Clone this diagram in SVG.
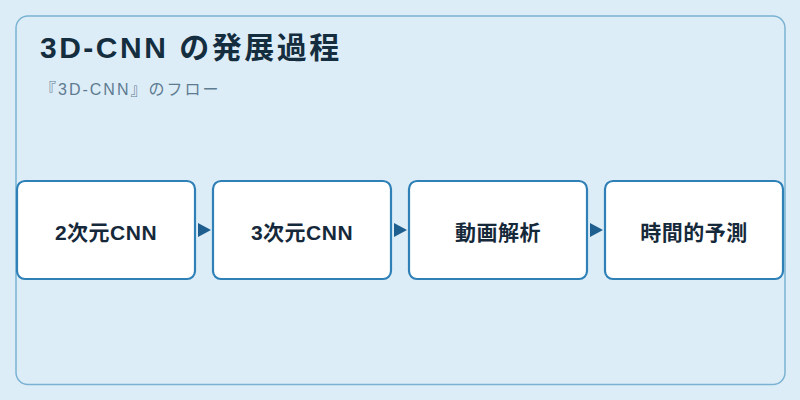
<svg xmlns="http://www.w3.org/2000/svg" width="800" height="400" viewBox="0 0 800 400">
<defs>
<style>
.node rect{fill:#ffffff;stroke:#2f80b7;stroke-width:2.2}
.node text{font-family:"Liberation Sans","Noto Sans CJK JP",sans-serif;font-size:21px;font-weight:bold;fill:#16293a;text-anchor:middle;letter-spacing:0.5px}
.conn path{fill:#1f5f8f}
</style>
</defs>
<rect x="0" y="0" width="800" height="400" fill="#ddedf7"/>
<rect x="16" y="16" width="769" height="368.5" rx="12" fill="#ddedf7" stroke="#7ab2d2" stroke-width="1.5"/>
<text x="40" y="58" font-family="'Liberation Sans','Noto Sans CJK JP',sans-serif" font-size="30" font-weight="bold" letter-spacing="2.5" fill="#152e3f">3D-CNN の発展過程</text>
<text x="40" y="95" font-family="'Liberation Sans','Noto Sans CJK JP',sans-serif" font-size="16" letter-spacing="2" fill="#5d7b91">『3D-CNN』のフロー</text>
<g id="conns" class="conn">
<path d="M198,223 L211,230 L198,237 Z"/>
<path d="M394,223 L407,230 L394,237 Z"/>
<path d="M590,223 L603,230 L590,237 Z"/>
</g>
<g id="n1" class="node"><rect x="17" y="181" width="178" height="98" rx="8"/><text x="106" y="240">2次元CNN</text></g>
<g id="n2" class="node"><rect x="213" y="181" width="178" height="98" rx="8"/><text x="302" y="240">3次元CNN</text></g>
<g id="n3" class="node"><rect x="409" y="181" width="178" height="98" rx="8"/><text x="498" y="240">動画解析</text></g>
<g id="n4" class="node"><rect x="605" y="181" width="178" height="98" rx="8"/><text x="694" y="240">時間的予測</text></g>
</svg>
